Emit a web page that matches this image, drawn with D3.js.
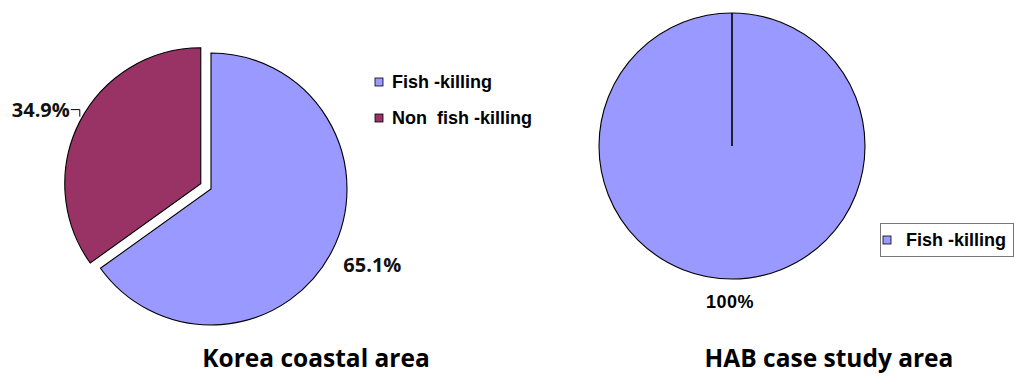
<!DOCTYPE html>
<html>
<head>
<meta charset="utf-8">
<script src="https://cdn.jsdelivr.net/npm/d3@7"></script>
<style>
  html, body { margin: 0; padding: 0; background: #ffffff; }
  svg { display: block; }
</style>
</head>
<body>
<svg id="chart" width="1014" height="376"></svg>
<script>
// ---- data ----
const categories = ["Fish-killing", "Non fish-killing"];
const koreaValues = [65.1, 34.9];
const koreaLabels = ["65.1%", "34.9%"];
const habCategories = ["Fish-killing"];
const habValues = [100];
const habLabels = ["100%"];
const legendLabels = ["Fish -killing", "Non  fish -killing"];
const titles = ["Korea coastal area", "HAB case study area"];
const colors = ["#9999ff", "#993366"];

// ---- layout ----
const svg = d3.select("#chart");
const labelFont = "'Open Sans', 'DejaVu Sans', sans-serif";
const legendFont = "'Liberation Sans', Arial, sans-serif";

const color = d3.scaleOrdinal().domain(categories).range(colors);
const pie = d3.pie().sort(null).value(d => d.value);

// ===== Left pie: Korea coastal area =====
const left = { cx: 211, cy: 189, r: 136, explode: 11.5, labelR: 178 };
const kData = pie(categories.map((c, i) => ({ cat: c, value: koreaValues[i], label: koreaLabels[i] })));
const arcL = d3.arc().innerRadius(0).outerRadius(left.r);
const gL = svg.append("g").attr("transform", `translate(${left.cx},${left.cy})`);

function midDir(d) {
  const a = (d.startAngle + d.endAngle) / 2;
  return [Math.sin(a), -Math.cos(a)];
}

kData.forEach((d, i) => {
  const [ux, uy] = midDir(d);
  const off = i === 1 ? left.explode : 0;
  const g = gL.append("g").attr("transform", `translate(${ux * off},${uy * off})`);
  g.append("path")
    .attr("d", arcL(d))
    .attr("fill", color(d.data.cat))
    .attr("stroke", "#000")
    .attr("stroke-width", 1.1)
    .attr("stroke-linejoin", "miter");

  if (i === 0) {
    // label outside, centered
    g.append("text")
      .attr("x", ux * left.labelR + 3)
      .attr("y", uy * left.labelR - 5)
      .attr("dy", "0.35em")
      .attr("text-anchor", "middle")
      .attr("font-family", labelFont)
      .attr("font-weight", 700)
      .attr("font-size", 20)
      .attr("fill", "#111")
      .text(d.data.label);
  } else {
    // label with leader line
    const px = ux * left.r, py = uy * left.r;
    const tx = px - 10, ty = py - 12;
    g.append("polyline")
      .attr("points", `${tx + 1},${ty} ${px},${ty} ${px},${py - 5}`)
      .attr("fill", "none")
      .attr("stroke", "#000")
      .attr("stroke-width", 1);
    g.append("text")
      .attr("x", tx)
      .attr("y", ty)
      .attr("dy", "0.35em")
      .attr("text-anchor", "end")
      .attr("font-family", labelFont)
      .attr("font-weight", 700)
      .attr("font-size", 20)
      .attr("fill", "#111")
      .text(d.data.label);
  }
});

// Left legend
const legL = svg.append("g").attr("transform", "translate(375,0)");
categories.forEach((c, i) => {
  const y = 82 + i * 36;
  legL.append("rect")
    .attr("x", 0).attr("y", y - 4).attr("width", 8).attr("height", 8)
    .attr("fill", color(c)).attr("stroke", "#000").attr("stroke-width", 0.8);
  legL.append("text")
    .attr("x", 17).attr("y", y)
    .attr("dy", "0.36em")
    .attr("font-family", legendFont)
    .attr("font-weight", 700)
    .attr("font-size", 18)
    .attr("fill", "#000")
    .style("white-space", "pre")
    .attr("xml:space", "preserve")
    .text(legendLabels[i]);
});

// ===== Right pie: HAB case study area =====
const right = { cx: 732, cy: 146, r: 133, labelR: 156 };
const hData = pie(habCategories.map((c, i) => ({ cat: c, value: habValues[i], label: habLabels[i] })));
const arcR = d3.arc().innerRadius(0).outerRadius(right.r);
const gR = svg.append("g").attr("transform", `translate(${right.cx},${right.cy})`);
hData.forEach(d => {
  gR.append("path")
    .attr("d", arcR(d))
    .attr("fill", color(d.data.cat))
    .attr("stroke", "#000")
    .attr("stroke-width", 1.1);
  // radial edge of the full slice
  gR.append("line")
    .attr("x1", 0).attr("y1", 0)
    .attr("x2", Math.sin(d.startAngle) * right.r)
    .attr("y2", -Math.cos(d.startAngle) * right.r)
    .attr("stroke", "#000")
    .attr("stroke-width", 1.6);
  const [ux, uy] = midDir(d);
  gR.append("text")
    .attr("x", ux * right.labelR - 2)
    .attr("y", uy * right.labelR)
    .attr("dy", "0.35em")
    .attr("text-anchor", "middle")
    .attr("font-family", legendFont)
    .attr("font-weight", 700)
    .attr("font-size", 18)
    .attr("letter-spacing", 0.5)
    .attr("fill", "#000")
    .text(d.data.label);
});

// Right legend (boxed)
const legR = svg.append("g").attr("transform", "translate(880,223)");
legR.append("rect")
  .attr("x", 0.5).attr("y", 0.5).attr("width", 133).attr("height", 33)
  .attr("fill", "#fff").attr("stroke", "#777").attr("stroke-width", 1);
legR.append("rect")
  .attr("x", 3).attr("y", 13).attr("width", 8).attr("height", 8)
  .attr("fill", color(habCategories[0])).attr("stroke", "#000").attr("stroke-width", 0.8);
legR.append("text")
  .attr("x", 26).attr("y", 17)
  .attr("dy", "0.36em")
  .attr("font-family", legendFont)
  .attr("font-weight", 700)
  .attr("font-size", 18)
  .attr("fill", "#000")
  .attr("xml:space", "preserve")
  .text(legendLabels[0]);

// Titles
const titlePos = [316, 829];
titles.forEach((t, i) => {
  svg.append("text")
    .attr("x", titlePos[i]).attr("y", 367)
    .attr("text-anchor", "middle")
    .attr("font-family", labelFont)
    .attr("font-weight", 700)
    .attr("font-size", 24.5)
    .attr("fill", "#000")
    .text(t);
});
</script>
</body>
</html>
